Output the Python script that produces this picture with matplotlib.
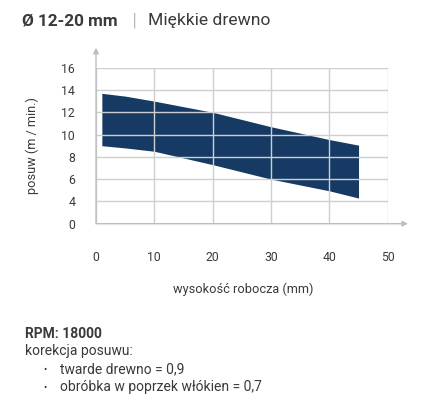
import matplotlib
matplotlib.use("Agg")
import matplotlib.pyplot as plt

# Data (display units)
x_vals = [1, 5, 10, 20, 30, 40, 45]
upper = [13.7, 13.45, 13.0, 12.0, 10.7, 9.55, 9.05]
lower = [9.0, 8.8, 8.5, 7.3, 6.0, 4.95, 4.3]
x_ticks = [0, 10, 20, 30, 40, 50]
y_tick_pos = [2, 4, 6, 8, 10, 12, 14, 16]
y_tick_labels = ["0", "4", "6", "8", "10", "12", "14", "16"]

plt.rcParams['font.family'] = ['Roboto', 'DejaVu Sans']
W, H = 448, 412
fig = plt.figure(figsize=(W / 100, H / 100), dpi=100)
fig.patch.set_facecolor('white')

ax = fig.add_axes([96 / W, 1 - 223.7 / H, (387.7 - 96) / W, (223.7 - 67.7) / H])
ax.set_xlim(0, 50)
ax.set_ylim(2, 16)

band = '#163a64'
grid_c = '#cfcfcf'
text_c = '#3a3a3a'

ax.fill_between(x_vals, lower, upper, color=band, linewidth=0, zorder=1)

ax.set_xticks(x_ticks)
ax.set_yticks(y_tick_pos)
ax.set_yticklabels(y_tick_labels)
ax.grid(True, color=grid_c, linewidth=1.0, zorder=2)
ax.set_axisbelow(False)
for s in ax.spines.values():
    s.set_visible(False)
ax.tick_params(axis='both', length=0, colors=text_c, labelsize=8.8)
ax.tick_params(axis='x', pad=20)
ax.tick_params(axis='y', pad=15)

# Axis lines with arrows
arrow_c = '#bdbdbd'
ax.annotate('', xy=(0, 1.128), xytext=(0, 0), xycoords='axes fraction',
            arrowprops=dict(arrowstyle='-|>', color=arrow_c, lw=1.0,
                            mutation_scale=8, shrinkA=0, shrinkB=0),
            annotation_clip=False, zorder=3)
ax.annotate('', xy=(1.0696, 0), xytext=(0, 0), xycoords='axes fraction',
            arrowprops=dict(arrowstyle='-|>', color=arrow_c, lw=1.0,
                            mutation_scale=8, shrinkA=0, shrinkB=0),
            annotation_clip=False, zorder=3)

# Axis labels
fig.text(32.3 / W, 1 - 145.5 / H, 'posuw (m / min.)', rotation=90,
         ha='center', va='center', fontsize=9.2, color=text_c)
fig.text(243 / W, 1 - 289 / H, 'wysokość robocza (mm)', ha='center',
         va='center', fontsize=9.2, color=text_c)

# Title
fig.text(22 / W, 1 - 21 / H, 'Ø 12-20 mm', ha='left', va='center',
         fontsize=12.3, fontweight='bold', color=text_c)
fig.text(134 / W, 1 - 21 / H, '|', ha='center', va='center',
         fontsize=13, fontweight='light', color='#444444')
fig.text(148 / W, 1 - 21 / H, 'Miękkie drewno', ha='left', va='center',
         fontsize=12.6, color=text_c)

# Notes
fs = 10
fig.text(25 / W, 1 - 334 / H, 'RPM: 18000', ha='left', va='center',
         fontsize=fs, fontweight='bold', color=text_c)
fig.text(25 / W, 1 - 351 / H, 'korekcja posuwu:', ha='left', va='center',
         fontsize=fs, color=text_c)
fig.text(45 / W, 1 - 370 / H, '•', ha='center', va='center',
         fontsize=7, color=text_c)
fig.text(60 / W, 1 - 369 / H, 'twarde drewno = 0,9', ha='left', va='center',
         fontsize=fs, color=text_c)
fig.text(45 / W, 1 - 388 / H, '•', ha='center', va='center',
         fontsize=7, color=text_c)
fig.text(60 / W, 1 - 387 / H, 'obróbka w poprzek włókien = 0,7', ha='left',
         va='center', fontsize=fs, color=text_c)

fig.savefig('out.png', dpi=100, facecolor='white')
